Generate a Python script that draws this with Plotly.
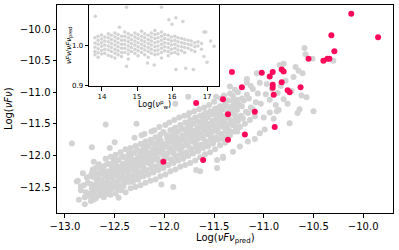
import plotly.graph_objects as go

# ---- main panel: grey sample (Log nuFnu_pred, Log nuFnu) ----
gray_pts = [
    (-12.86,-12.70),(-12.84,-12.55),(-12.87,-12.40),
    (-12.79,-12.58),(-12.81,-12.47),(-12.78,-12.35),(-12.82,-12.28),
    (-12.74,-12.72),(-12.76,-12.60),(-12.73,-12.52),(-12.77,-12.43),(-12.75,-12.33),(-12.72,-12.22),
    (-12.69,-12.68),(-12.71,-12.58),(-12.70,-12.49),(-12.68,-12.40),(-12.72,-12.31),(-12.69,-12.20),(-12.71,-12.10),
    (-12.64,-12.63),(-12.66,-12.55),(-12.63,-12.46),(-12.67,-12.38),(-12.65,-12.29),(-12.62,-12.22),(-12.66,-12.14),
    (-12.61,-12.66),(-12.59,-12.57),(-12.62,-12.49),(-12.58,-12.42),(-12.60,-12.33),(-12.57,-12.26),(-12.61,-12.17),(-12.59,-12.05),
    (-12.54,-12.62),(-12.56,-12.53),(-12.53,-12.45),(-12.57,-12.37),(-12.55,-12.30),(-12.52,-12.22),(-12.56,-12.13),(-12.54,-12.02),
    (-12.49,-12.60),(-12.51,-12.50),(-12.48,-12.42),(-12.52,-12.34),(-12.50,-12.27),(-12.47,-12.19),(-12.51,-12.10),(-12.49,-11.99),
    (-12.44,-12.55),(-12.46,-12.47),(-12.43,-12.38),(-12.47,-12.31),(-12.45,-12.23),(-12.42,-12.15),(-12.46,-12.07),(-12.44,-11.95),
    (-12.39,-12.58),(-12.41,-12.46),(-12.38,-12.36),(-12.42,-12.27),(-12.40,-12.19),(-12.37,-12.11),(-12.41,-12.02),(-12.39,-11.90),
    (-12.34,-12.52),(-12.36,-12.42),(-12.33,-12.33),(-12.37,-12.24),(-12.35,-12.16),(-12.32,-12.08),(-12.36,-12.00),(-12.34,-11.88),
    (-12.29,-12.50),(-12.31,-12.39),(-12.28,-12.30),(-12.32,-12.21),(-12.30,-12.13),(-12.27,-12.05),(-12.31,-11.96),(-12.29,-11.85),(-12.30,-11.72),
    (-12.24,-12.47),(-12.26,-12.36),(-12.23,-12.27),(-12.27,-12.18),(-12.25,-12.10),(-12.22,-12.02),(-12.26,-11.93),(-12.24,-11.82),(-12.23,-11.68),
    (-12.19,-12.43),(-12.21,-12.33),(-12.18,-12.24),(-12.22,-12.15),(-12.20,-12.06),(-12.17,-11.98),(-12.21,-11.89),(-12.19,-11.78),(-12.20,-11.66),
    (-12.14,-12.40),(-12.16,-12.30),(-12.13,-12.20),(-12.17,-12.11),(-12.15,-12.02),(-12.12,-11.94),(-12.16,-11.85),(-12.14,-11.75),(-12.13,-11.62),
    (-12.09,-12.38),(-12.11,-12.27),(-12.08,-12.17),(-12.12,-12.07),(-12.10,-11.98),(-12.07,-11.90),(-12.11,-11.81),(-12.09,-11.71),(-12.10,-11.60),
    (-12.04,-12.33),(-12.06,-12.23),(-12.03,-12.13),(-12.07,-12.04),(-12.05,-11.95),(-12.02,-11.86),(-12.06,-11.77),(-12.04,-11.67),(-12.05,-11.55),
    (-11.99,-12.30),(-12.01,-12.20),(-11.98,-12.00),(-12.02,-11.91),(-12.00,-11.82),(-11.97,-11.73),(-12.01,-11.63),(-11.99,-11.52),
    (-11.94,-12.25),(-11.96,-12.15),(-11.93,-12.06),(-11.97,-11.97),(-11.95,-11.88),(-11.92,-11.79),(-11.96,-11.70),(-11.94,-11.60),(-11.95,-11.48),
    (-11.89,-12.22),(-11.91,-12.12),(-11.88,-12.02),(-11.92,-11.93),(-11.90,-11.84),(-11.87,-11.75),(-11.91,-11.66),(-11.89,-11.56),(-11.90,-11.44),
    (-11.84,-12.18),(-11.86,-12.08),(-11.83,-11.98),(-11.87,-11.89),(-11.85,-11.80),(-11.82,-11.71),(-11.86,-11.62),(-11.84,-11.52),(-11.85,-11.40),
    (-11.79,-12.15),(-11.81,-12.05),(-11.78,-11.95),(-11.82,-11.86),(-11.80,-11.76),(-11.77,-11.67),(-11.81,-11.58),(-11.79,-11.48),(-11.80,-11.37),
    (-11.74,-12.12),(-11.76,-12.01),(-11.73,-11.91),(-11.77,-11.82),(-11.75,-11.72),(-11.72,-11.63),(-11.76,-11.54),(-11.74,-11.44),(-11.75,-11.33),
    (-11.69,-12.08),(-11.71,-11.97),(-11.68,-11.87),(-11.72,-11.78),(-11.70,-11.68),(-11.67,-11.59),(-11.71,-11.50),(-11.69,-11.40),(-11.70,-11.30),
    (-11.64,-12.03),(-11.66,-11.93),(-11.63,-11.83),(-11.67,-11.74),(-11.65,-11.65),(-11.62,-11.56),(-11.66,-11.47),(-11.64,-11.37),(-11.65,-11.27),
    (-11.59,-11.98),(-11.61,-11.88),(-11.58,-11.79),(-11.62,-11.70),(-11.60,-11.61),(-11.57,-11.52),(-11.61,-11.43),(-11.59,-11.33),(-11.60,-11.24),
    (-11.54,-11.95),(-11.56,-11.85),(-11.53,-11.75),(-11.57,-11.66),(-11.55,-11.57),(-11.52,-11.48),(-11.56,-11.39),(-11.54,-11.30),(-11.55,-11.20),
    (-11.49,-11.90),(-11.51,-11.80),(-11.48,-11.71),(-11.52,-11.62),(-11.50,-11.53),(-11.47,-11.44),(-11.51,-11.35),(-11.49,-11.26),(-11.50,-11.15),
    (-11.44,-11.84),(-11.46,-11.75),(-11.43,-11.66),(-11.47,-11.57),(-11.45,-11.48),(-11.42,-11.39),(-11.46,-11.31),(-11.44,-11.22),(-11.43,-11.10),
    (-11.39,-11.80),(-11.41,-11.71),(-11.38,-11.62),(-11.42,-11.53),(-11.40,-11.45),(-11.37,-11.36),(-11.41,-11.27),(-11.39,-11.18),(-11.40,-11.05),
    (-11.34,-11.68),(-11.36,-11.58),(-11.33,-11.49),(-11.37,-11.40),(-11.35,-11.31),(-11.32,-11.22),(-11.36,-11.13),(-11.34,-11.02),
    (-11.29,-11.62),(-11.31,-11.52),(-11.28,-11.43),(-11.32,-11.34),(-11.30,-11.25),(-11.27,-11.16),(-11.31,-11.06),(-11.29,-10.96),
    (-11.24,-11.55),(-11.26,-11.46),(-11.23,-11.37),(-11.27,-11.28),(-11.25,-11.19),(-11.22,-11.10),(-11.26,-11.00),
    (-11.19,-11.50),(-11.21,-11.41),(-11.18,-11.31),(-11.22,-11.22),(-11.20,-11.13),(-11.17,-11.04),
    (-11.14,-11.44),(-11.16,-11.33),(-11.13,-11.24),(-11.15,-11.10),
    (-11.09,-11.38),(-11.11,-11.27),(-11.08,-11.16),
    # sparse sources at the upper-right end of the cloud
    (-11.03,-11.18),(-10.98,-11.03),(-10.92,-10.95),(-10.88,-11.20),(-10.83,-10.90),(-10.78,-10.82),
    (-10.72,-10.98),(-10.70,-10.76),(-11.00,-11.40),(-10.90,-11.42),(-10.76,-11.18),(-10.62,-11.05),
    (-10.68,-10.60),(-11.06,-11.02),
    # sparse outliers
    (-12.93,-11.81),(-12.59,-11.51),(-12.28,-11.50),(-12.73,-11.87),(-12.55,-11.88),(-12.50,-11.79),
    (-12.88,-12.41),(-12.84,-12.49),(-12.80,-12.66),(-12.75,-12.64),(-12.80,-12.77),(-12.46,-12.67),
    (-12.03,-12.46),(-11.91,-12.50),(-11.64,-12.25),(-11.47,-12.20),(-11.47,-12.07),(-11.68,-12.23),
    (-11.41,-12.04),(-11.76,-11.36),(-11.89,-11.18),(-11.76,-11.07),
    (-10.50,-11.30),(-10.57,-11.08),(-10.65,-10.66),(-10.61,-10.70),(-10.84,-10.57),(-10.80,-10.55),
    (-11.07,-10.70),(-11.04,-10.85),(-10.97,-10.87),(-10.86,-11.01),(-10.80,-11.11),(-11.34,-10.91),
    (-11.17,-10.85),(-11.11,-10.95),(-10.85,-11.28),(-10.94,-11.32),(-10.74,-11.49),(-10.66,-11.33),
    (-10.64,-11.27),(-10.99,-11.59),(-11.04,-11.65),(-11.09,-11.74),(-11.16,-11.78),(-11.24,-11.86),
    (-11.31,-11.94),(-11.41,-12.02),(-10.59,-10.30),(-10.58,-10.40),(-10.51,-10.47),(-10.30,-10.50),
    (-11.17,-10.79),(-11.13,-10.90),(-11.48,-11.07),(-11.27,-11.12),(-10.94,-11.12),(-10.87,-11.30),
]
# extra grey sources filling the dense core of the cloud
gray_core_pts = [
    (-12.713,-12.70),(-12.734,-12.63),(-12.721,-12.52),(-12.739,-12.45),(-12.715,-12.34),(-12.727,-12.27),
    (-12.681,-12.64),(-12.662,-12.53),(-12.686,-12.46),(-12.668,-12.35),(-12.678,-12.28),(-12.660,-12.16),
    (-12.617,-12.64),(-12.629,-12.57),(-12.611,-12.46),(-12.635,-12.39),(-12.624,-12.28),(-12.637,-12.21),
    (-12.563,-12.61),(-12.584,-12.50),(-12.571,-12.43),(-12.589,-12.32),(-12.565,-12.25),(-12.577,-12.14),
    (-12.531,-12.53),(-12.512,-12.42),(-12.536,-12.35),(-12.518,-12.24),(-12.528,-12.17),(-12.510,-12.05),
    (-12.467,-12.53),(-12.479,-12.46),(-12.461,-12.35),(-12.485,-12.28),(-12.474,-12.17),(-12.487,-12.10),
    (-12.413,-12.49),(-12.434,-12.38),(-12.421,-12.31),(-12.439,-12.20),(-12.415,-12.13),(-12.427,-12.02),
    (-12.381,-12.41),(-12.362,-12.30),(-12.386,-12.23),(-12.368,-12.12),(-12.378,-12.05),(-12.360,-11.93),
    (-12.317,-12.42),(-12.329,-12.35),(-12.311,-12.24),(-12.335,-12.17),(-12.324,-12.06),(-12.337,-11.99),
    (-12.263,-12.38),(-12.284,-12.27),(-12.271,-12.20),(-12.289,-12.09),(-12.265,-12.02),(-12.277,-11.91),
    (-12.231,-12.30),(-12.212,-12.19),(-12.236,-12.12),(-12.218,-12.01),(-12.228,-11.94),(-12.210,-11.82),
    (-12.167,-12.30),(-12.179,-12.23),(-12.161,-12.12),(-12.185,-12.05),(-12.174,-11.94),(-12.187,-11.87),
    (-12.113,-12.26),(-12.134,-12.15),(-12.121,-12.08),(-12.139,-11.97),(-12.115,-11.90),(-12.127,-11.79),
    (-12.081,-12.19),(-12.062,-12.08),(-12.086,-12.01),(-12.068,-11.90),(-12.078,-11.83),(-12.060,-11.71),
    (-12.017,-12.19),(-12.029,-12.12),(-12.011,-12.01),(-12.035,-11.94),(-12.024,-11.83),(-12.037,-11.76),
    (-11.963,-12.15),(-11.984,-12.04),(-11.971,-11.97),(-11.989,-11.86),(-11.965,-11.79),(-11.977,-11.68),
    (-11.931,-12.07),(-11.912,-11.96),(-11.936,-11.89),(-11.918,-11.78),(-11.928,-11.71),(-11.910,-11.59),
    (-11.867,-12.07),(-11.879,-12.00),(-11.861,-11.89),(-11.885,-11.82),(-11.874,-11.71),(-11.887,-11.64),
    (-11.813,-12.04),(-11.834,-11.93),(-11.821,-11.86),(-11.839,-11.75),(-11.815,-11.68),(-11.827,-11.57),
    (-11.781,-11.96),(-11.762,-11.85),(-11.786,-11.78),(-11.768,-11.67),(-11.778,-11.60),(-11.760,-11.48),
    (-11.717,-11.96),(-11.729,-11.89),(-11.711,-11.78),(-11.735,-11.71),(-11.724,-11.60),(-11.737,-11.53),
    (-11.663,-11.92),(-11.684,-11.81),(-11.671,-11.74),(-11.689,-11.63),(-11.665,-11.56),(-11.677,-11.45),
    (-11.631,-11.84),(-11.612,-11.73),(-11.636,-11.66),(-11.618,-11.55),(-11.628,-11.48),(-11.610,-11.36),
    (-11.567,-11.85),(-11.579,-11.78),(-11.561,-11.67),(-11.585,-11.60),(-11.574,-11.49),(-11.587,-11.42),
    (-11.513,-11.81),(-11.534,-11.70),(-11.521,-11.63),(-11.539,-11.52),(-11.515,-11.45),(-11.527,-11.34),
    (-11.481,-11.73),(-11.462,-11.62),(-11.486,-11.55),(-11.468,-11.44),(-11.478,-11.37),(-11.460,-11.25),
    (-11.417,-11.73),(-11.429,-11.66),(-11.411,-11.55),(-11.435,-11.48),(-11.424,-11.37),(-11.437,-11.30),
    (-11.363,-11.69),(-11.384,-11.58),(-11.371,-11.51),(-11.389,-11.40),(-11.365,-11.33),(-11.377,-11.22),
    (-11.331,-11.62),(-11.312,-11.51),(-11.336,-11.44),(-11.318,-11.33),(-11.328,-11.26),(-11.310,-11.14),
    (-11.267,-11.62),(-11.279,-11.55),(-11.261,-11.44),(-11.285,-11.37),(-11.274,-11.26),(-11.287,-11.19),
]
gray_x = [p[0] for p in gray_pts] + [p[0] for p in gray_core_pts]
gray_y = [p[1] for p in gray_pts] + [p[1] for p in gray_core_pts]

# ---- main panel: highlighted sources ----
pink_x = [-10.12, -9.85, -10.32, -10.29, -10.40, -10.36, -10.34, -10.55, -11.32, -11.02,
          -10.91, -10.94, -10.82, -10.80, -10.82, -10.91, -10.91, -11.22, -10.76, -10.74,
          -10.63, -10.90, -11.68, -11.41, -11.36, -11.09, -10.89, -11.61, -11.36, -11.19,
          -12.01]
pink_y = [-9.76, -10.13, -10.10, -10.35, -10.50, -10.47, -10.47, -10.47, -10.68, -10.69,
          -10.68, -10.75, -10.64, -10.67, -10.84, -10.88, -10.93, -10.92, -10.97, -11.00,
          -10.92, -11.04, -11.17, -11.11, -11.35, -11.31, -11.55, -12.07, -11.75, -11.67,
          -12.10]

main_xticks = [-13.0, -12.5, -12.0, -11.5, -11.0, -10.5, -10.0]
main_yticks = [-12.5, -12.0, -11.5, -11.0, -10.5, -10.0]

# ---- inset: ratio vs Log(nu_w^p) ----
inset_cols = [
    (13.80, [1.018, 1.005, 0.995, 0.984, 0.976]),
    (13.89, [1.022, 1.012, 1.002, 0.991, 0.981, 0.970]),
    (13.99, [1.025, 1.015, 1.006, 0.997, 0.987, 0.978]),
    (14.08, [1.020, 1.010, 1.000, 0.990, 0.980]),
    (14.18, [1.028, 1.018, 1.008, 0.998, 0.988, 0.975]),
    (14.27, [1.024, 1.014, 1.004, 0.994, 0.984, 0.972]),
    (14.37, [1.030, 1.020, 1.010, 1.000, 0.990, 0.980, 0.968]),
    (14.46, [1.026, 1.016, 1.006, 0.996, 0.986, 0.976]),
    (14.56, [1.022, 1.012, 1.002, 0.992, 0.982, 0.972]),
    (14.65, [1.032, 1.022, 1.012, 1.002, 0.992, 0.982]),
    (14.75, [1.028, 1.018, 1.008, 0.998, 0.988, 0.978, 0.966]),
    (14.84, [1.024, 1.014, 1.004, 0.994, 0.984]),
    (14.94, [1.030, 1.020, 1.010, 1.000, 0.990, 0.980]),
    (15.03, [1.026, 1.016, 1.006, 0.996, 0.986, 0.974]),
    (15.13, [1.034, 1.022, 1.012, 1.002, 0.992, 0.982]),
    (15.22, [1.028, 1.018, 1.008, 0.998, 0.988, 0.976]),
    (15.32, [1.024, 1.014, 1.004, 0.994, 0.984, 0.970]),
    (15.41, [1.030, 1.020, 1.010, 1.000, 0.990, 0.980]),
    (15.51, [1.036, 1.026, 1.016, 1.006, 0.996, 0.986, 0.976]),
    (15.60, [1.028, 1.018, 1.008, 0.998, 0.988, 0.978]),
    (15.70, [1.032, 1.022, 1.012, 1.002, 0.992, 0.982, 0.968]),
    (15.79, [1.026, 1.016, 1.006, 0.996, 0.986]),
    (15.89, [1.024, 1.014, 1.004, 0.994, 0.984, 0.974]),
    (15.98, [1.020, 1.010, 1.000, 0.990, 0.980]),
    (16.08, [1.022, 1.012, 1.002, 0.992, 0.982]),
    (16.17, [1.018, 1.008, 0.998, 0.988, 0.978]),
    (16.27, [1.016, 1.006, 0.996, 0.986]),
    (16.36, [1.014, 1.004, 0.994, 0.982]),
    (16.46, [1.012, 1.002, 0.992]),
    (16.55, [1.010, 1.000, 0.988]),
    (16.65, [1.006, 0.996, 0.984]),
    (16.74, [1.008, 0.998]),
    (16.84, [1.004, 0.990]),
]
inset_out_x = [13.81, 14.70, 14.50, 14.70, 15.30, 15.49, 15.70, 15.91, 16.11, 16.00, 16.31,
               16.11, 16.39, 16.61, 17.00, 16.91, 16.96, 17.10, 17.20, 16.91]
inset_out_y = [1.071, 1.093, 1.044, 0.948, 0.956, 0.951, 1.093, 1.062, 1.067, 1.051, 1.058,
               0.940, 0.943, 0.940, 0.958, 1.032, 1.032, 1.010, 0.997, 0.972]
inset_x = [c for c, ys in inset_cols for _ in ys] + inset_out_x
inset_y = [y for _, ys in inset_cols for y in ys] + inset_out_y

inset_xticks = [14, 15, 16, 17]
inset_yticks = [0.9, 1.0]

GRAY = "#d3d3d3"
PINK = "#ff0a5a"
FONT = "DejaVu Sans"

fig = go.Figure()
fig.add_trace(go.Scatter(x=gray_x, y=gray_y, mode="markers",
                         marker=dict(color=GRAY, size=6, line=dict(width=0)),
                         xaxis="x", yaxis="y", hoverinfo="skip"))
fig.add_trace(go.Scatter(x=pink_x, y=pink_y, mode="markers",
                         marker=dict(color=PINK, size=6, line=dict(width=0)),
                         xaxis="x", yaxis="y", hoverinfo="skip"))
fig.add_trace(go.Scatter(x=inset_x, y=inset_y, mode="markers",
                         marker=dict(color=GRAY, size=3.5, line=dict(width=0)),
                         xaxis="x2", yaxis="y2", hoverinfo="skip"))

ax_common = dict(showline=True, linecolor="black", linewidth=1, mirror=True,
                 showgrid=False, zeroline=False, ticks="outside", ticklen=3.5,
                 tickwidth=1, tickcolor="black")

inset_dom_x = [(89 - 57) / 336, (219 - 57) / 336]
inset_dom_y = [(213 - 86) / 208, 1.0]

fig.update_layout(
    width=399, height=250,
    margin=dict(l=57, r=6, t=5, b=37),
    paper_bgcolor="white", plot_bgcolor="white",
    showlegend=False,
    font=dict(family=FONT, size=10, color="black"),
    xaxis=dict(domain=[0, 1], range=[-13.08, -9.70], tickvals=main_xticks,
               tickformat=".1f", tickfont=dict(size=10), **ax_common),
    yaxis=dict(domain=[0, 1], range=[-12.91, -9.62], tickvals=main_yticks,
               tickformat=".1f", tickfont=dict(size=10), **ax_common),
    xaxis2=dict(domain=inset_dom_x, anchor="y2", range=[13.63, 17.34],
                tickvals=inset_xticks, tickfont=dict(size=7), **ax_common),
    yaxis2=dict(domain=inset_dom_y, anchor="x2", range=[0.8995, 1.0985],
                tickvals=inset_yticks, tickformat=".1f", tickfont=dict(size=7), **ax_common),
    shapes=[dict(type="rect", xref="x2", yref="y2", x0=13.63, x1=17.34,
                 y0=0.8995, y1=1.0985, fillcolor="white", line=dict(width=0),
                 layer="below")],
    annotations=[
        dict(text="Log(<i>νFν</i>)", xref="paper", yref="paper", x=-49 / 336, y=0.5,
             textangle=-90, showarrow=False, xanchor="center", yanchor="middle",
             font=dict(size=10)),
        dict(text="Log(<i>νFν</i><sub>pred</sub>)", xref="paper", yref="paper", x=0.5,
             y=(213 - 238) / 208, showarrow=False, xanchor="center", yanchor="middle",
             font=dict(size=10)),
        dict(text="Log(<i>ν</i><sup>p</sup><sub>w</sub>)", xref="paper", yref="paper",
             x=(154 - 57) / 336, y=(213 - 104) / 208, showarrow=False,
             xanchor="center", yanchor="middle", font=dict(size=8)),
        dict(text="<i>νFν</i>/<i>νFν</i><sub>pred</sub>", xref="paper", yref="paper",
             x=(70 - 57) / 336, y=(213 - 46) / 208, textangle=-90, showarrow=False,
             xanchor="center", yanchor="middle", font=dict(size=7)),
    ],
)

fig.write_html("out.html", config={"displayModeBar": False},
               post_script="document.body.style.margin='0px';")
